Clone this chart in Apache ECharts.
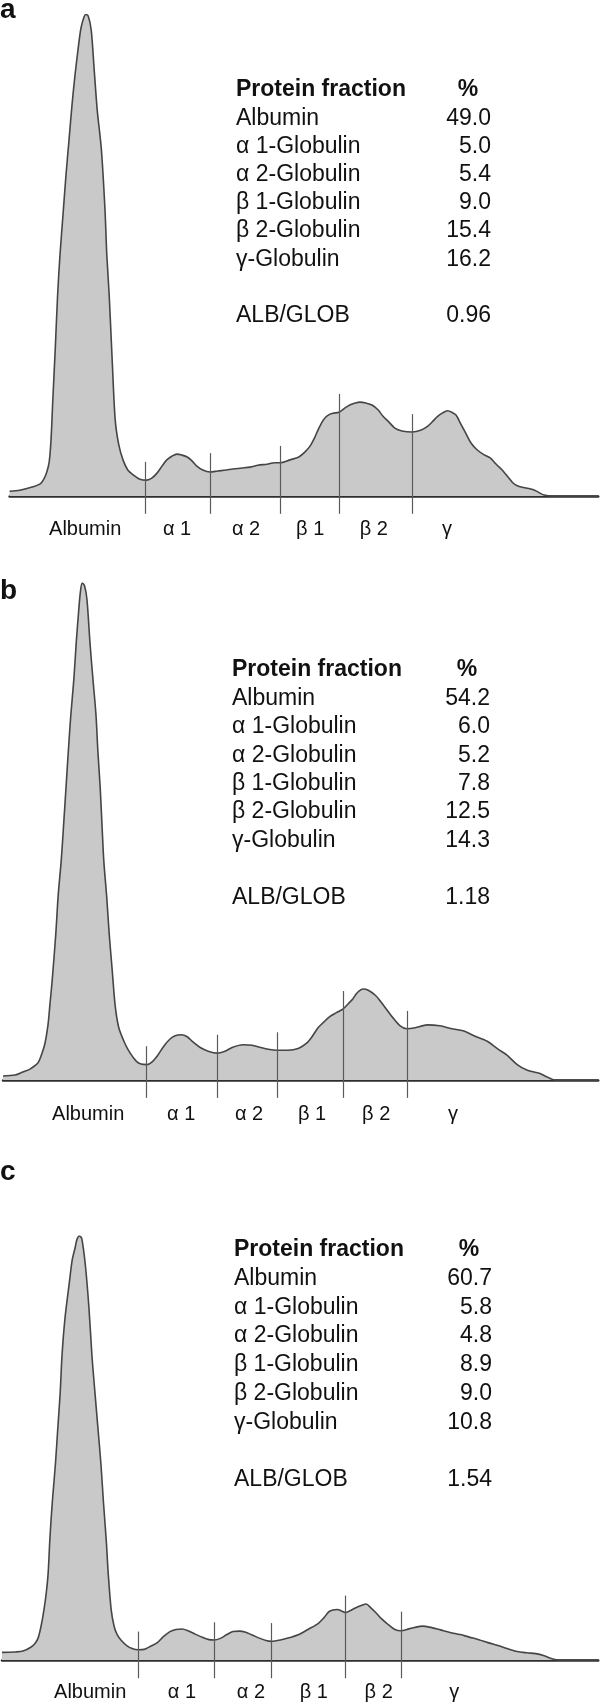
<!DOCTYPE html>
<html>
<head>
<meta charset="utf-8">
<script src="https://cdn.jsdelivr.net/npm/echarts@6/dist/echarts.min.js"></script>
<style>
html,body{margin:0;padding:0;background:#fff;}
#chart{width:600px;height:1707px;}
</style>
</head>
<body>
<div id="chart"></div>
<script>
// ---------------- DATA ----------------
const panelLetters = ['a', 'b', 'c'];
const fractionLabels = ['Albumin', 'α 1', 'α 2', 'β 1', 'β 2', 'γ'];
const tableNames = ['Albumin', 'α 1-Globulin', 'α 2-Globulin', 'β 1-Globulin', 'β 2-Globulin', 'γ-Globulin'];
const tableHeader = ['Protein fraction', '%'];
const ratioName = 'ALB/GLOB';

const percentA = [49.0, 5.0, 5.4, 9.0, 15.4, 16.2];
const percentB = [54.2, 6.0, 5.2, 7.8, 12.5, 14.3];
const percentC = [60.7, 5.8, 4.8, 8.9, 9.0, 10.8];
const ratioA = 0.96;
const ratioB = 1.18;
const ratioC = 1.54;

// densitometric traces: [migration position, relative absorbance (% of albumin peak)]
const curveA = [[1.6,1.0],[3.3,1.2],[5.5,1.9],[6.7,2.5],[7.3,3.5],[7.8,5.0],[8.2,7.1],[8.5,11.6],[8.8,19.9],[9.2,30.3],[9.6,41.7],[10.0,50.1],[10.5,58.4],[11.0,66.7],[11.5,73.9],[12.0,81.2],[12.5,87.4],[13.1,93.7],[13.5,97.2],[14.0,99.5],[14.3,100],[14.7,99.7],[15.2,96.8],[15.7,88.5],[16.2,80.2],[16.9,71.9],[17.5,59.4],[17.8,50.1],[18.2,41.7],[18.7,28.2],[19.2,15.8],[19.8,10.6],[20.5,7.5],[21.3,5.4],[22.2,4.4],[23.3,3.5],[24.5,3.3],[25.3,3.7],[26.2,4.8],[27.0,6.2],[27.8,7.5],[28.7,8.3],[29.5,8.7],[30.3,8.5],[31.2,8.1],[32.0,7.3],[32.8,6.2],[33.8,5.4],[35.0,5.0],[36.3,5.2],[37.7,5.4],[38.8,5.6],[40.3,5.8],[41.7,6.0],[43.0,6.4],[44.5,6.6],[45.8,6.9],[46.7,6.9],[48.3,7.5],[49.8,8.1],[50.8,9.1],[51.7,10.4],[52.5,12.3],[53.0,13.7],[53.7,15.4],[54.3,16.4],[55.0,17.0],[55.5,17.2],[56.5,17.4],[57.5,18.3],[58.3,18.9],[59.2,19.3],[60.0,19.5],[61.0,19.3],[62.0,18.9],[63.0,17.9],[63.8,16.6],[64.8,15.4],[65.8,14.1],[67.0,13.5],[68.7,13.3],[70.2,13.7],[71.3,14.5],[72.2,15.6],[72.8,16.4],[73.7,17.2],[74.6,17.7],[75.3,17.4],[76.0,16.8],[76.7,15.2],[77.6,13.1],[78.5,11.0],[79.5,9.6],[80.5,8.7],[81.7,7.9],[82.7,6.6],[83.7,5.4],[84.7,3.9],[85.5,2.7],[86.3,2.1],[87.5,1.7],[88.3,1.5],[89.1,1.2],[90.0,0.6],[90.7,0.2],[92.0,0],[99.7,0]];
const curveB = [[0.5,0.8],[2.5,1.0],[3.8,1.6],[5.0,2.2],[6.3,3.4],[7.0,5.4],[7.5,7.4],[8.0,11.1],[8.3,14.9],[8.7,20.1],[9.3,29.4],[9.7,37.2],[10.2,44.1],[10.6,51.3],[11.0,58.8],[11.4,66.4],[11.8,73.4],[12.3,80.5],[12.7,87.9],[13.1,94.2],[13.4,98.2],[13.7,100],[14.1,99.4],[14.5,96.6],[15.0,87.9],[15.5,80.5],[16.0,73.4],[16.3,66.4],[16.7,58.8],[17.0,51.3],[17.3,44.1],[17.8,36.6],[18.2,29.4],[18.7,22.1],[19.2,14.9],[19.8,10.5],[20.8,7.4],[21.7,5.4],[22.7,3.8],[23.5,3.2],[24.5,3.1],[25.3,3.6],[26.3,5.0],[27.3,6.8],[28.3,8.2],[29.2,8.9],[30.2,9.1],[31.2,8.7],[32.2,7.6],[33.3,6.6],[34.7,5.8],[36.2,5.4],[37.5,5.8],[38.8,6.6],[40.5,7.1],[42.0,7.0],[43.3,6.6],[44.7,6.2],[46.2,6.0],[48.0,6.0],[49.8,6.4],[51.1,7.4],[52.0,8.7],[53.0,10.5],[54.0,11.7],[54.9,12.7],[56.0,13.5],[57.2,14.3],[58.0,15.3],[58.8,16.3],[59.5,17.5],[60.5,18.3],[61.3,18.1],[62.6,17.0],[63.5,15.7],[64.5,14.1],[65.5,12.5],[66.7,10.9],[67.8,10.3],[69.2,10.5],[71.2,11.1],[73.3,10.9],[75.3,10.3],[77.2,9.9],[79.2,8.8],[81.2,7.8],[83.0,6.2],[84.5,5.0],[86.2,3.1],[87.8,2.0],[89.0,1.6],[90.0,1.3],[91.2,0.6],[92.5,0],[99.7,0]];
const curveC = [[0.3,1.8],[2.5,1.9],[3.8,2.1],[5.1,3.0],[5.8,3.9],[6.3,5.1],[6.8,7.9],[7.3,11.9],[7.7,16.1],[8.0,20.6],[8.3,29.0],[8.7,37.5],[9.2,46.1],[9.6,54.6],[10.0,63.0],[10.3,71.7],[10.8,80.6],[11.5,88.7],[12.0,94.3],[12.5,97.3],[12.8,99.2],[13.2,100],[13.6,99.4],[14.2,93.1],[14.8,83.0],[15.3,71.7],[15.8,63.0],[16.3,54.6],[16.8,46.1],[17.2,37.5],[17.7,27.8],[18.0,20.6],[18.5,11.9],[19.0,7.9],[19.5,6.0],[20.2,4.6],[21.1,3.4],[22.0,2.7],[23.0,2.4],[24.0,2.5],[25.0,3.2],[26.2,4.1],[27.2,5.5],[28.3,6.7],[29.3,7.2],[30.3,7.3],[31.3,6.9],[32.5,6.1],[33.8,5.3],[34.8,4.8],[35.7,4.7],[36.7,5.1],[37.8,6.0],[38.8,6.7],[39.9,6.8],[40.8,6.6],[42.0,5.9],[43.3,5.1],[44.3,4.6],[45.2,4.4],[46.7,4.7],[48.3,5.3],[49.8,6.0],[51.3,7.2],[53.0,8.6],[54.0,10.0],[54.9,11.5],[56.2,11.9],[57.0,11.5],[57.6,11.2],[58.3,11.6],[59.3,12.3],[60.3,12.9],[61.0,13.2],[61.8,12.3],[62.6,11.2],[63.5,9.8],[64.5,8.6],[65.8,7.2],[66.8,6.9],[68.3,7.4],[70.3,8.0],[71.8,7.7],[73.4,7.1],[75.0,6.5],[76.7,6.0],[78.2,5.4],[79.8,4.8],[81.3,4.1],[83.0,3.4],[84.5,2.7],[86.2,2.0],[87.8,1.7],[89.3,1.5],[90.7,1.0],[92.0,0.3],[93.2,0],[99.7,0]];

// fraction boundaries: [position, top of the marker]
const dividersA = [[24.2,7.1],[35.0,8.9],[46.7,10.4],[56.5,21.2],[68.7,17.0]];
const dividersB = [[24.3,6.8],[36.2,9.1],[46.2,9.6],[57.2,17.9],[67.8,13.9]];
const dividersC = [[23.0,6.7],[35.7,8.9],[45.2,8.7],[57.6,15.2],[66.8,11.4]];
const dividerBottom = [-3.7, -3.6, -4.3];

// fraction label positions along the migration axis
const labelPosA = [14.2, 29.5, 41.0, 51.7, 62.3, 74.5];
const labelPosB = [14.7, 30.2, 41.5, 52.0, 62.7, 75.5];
const labelPosC = [15.0, 30.3, 41.8, 52.3, 63.1, 75.7];

// ---------------- LAYOUT ----------------
const CH = 1707;
const layout = [
  {letterY: 10, peak: 14.5, base: 496, left: 9.6, right: 1.8, margin: 2.3,
   tx: 236, ty: 90, step: 28.2, vx: 491, px: 468},
  {letterY: 591, peak: 583, base: 1080, left: 3, right: 1.8, margin: 2.6,
   tx: 232, ty: 670, step: 28.4, vx: 490, px: 467},
  {letterY: 1172, peak: 1236, base: 1660, left: 2, right: 1.8, margin: 3.9,
   tx: 234, ty: 1250, step: 28.7, vx: 492, px: 469}
];
const Y_MIN = -4.5, Y_MAX = 100;

const curves = [curveA, curveB, curveC];
const dividers = [dividersA, dividersB, dividersC];
const labelPos = [labelPosA, labelPosB, labelPosC];
const percents = [percentA, percentB, percentC];
const ratios = [ratioA, ratioB, ratioC];

const FONT = '"Liberation Sans", Arial, Helvetica, sans-serif';

const grids = [], xAxes = [], yAxes = [], series = [], graphics = [];

function txt(x, y, text, font, align) {
  return {type: 'text', x: x, y: y, z: 10,
    style: {text: text, font: font, fill: '#111',
            align: align, verticalAlign: 'middle', textAlign: align, textVerticalAlign: 'middle'}};
}

layout.forEach((L, i) => {
  const unit = (L.base - L.peak) / Y_MAX;
  const bottomPx = L.base + (-Y_MIN) * unit;
  grids.push({left: L.left, right: L.right, top: L.peak, bottom: CH - bottomPx,
              containLabel: false, outerBoundsMode: 'none'});
  const c = curves[i];
  const lp = labelPos[i];
  xAxes.push({
    type: 'value', gridIndex: i, min: c[0][0], max: c[c.length - 1][0],
    splitLine: {show: false}, axisTick: {show: false},
    axisLine: {show: true, onZero: true, lineStyle: {color: '#2e2e2e', width: 2.5}},
    axisLabel: {
      show: true, customValues: lp, margin: L.margin,
      fontSize: 20, color: '#111', fontFamily: FONT,
      formatter: function (v) {
        const k = lp.indexOf(v);
        return k >= 0 ? fractionLabels[k] : '';
      }
    }
  });
  yAxes.push({type: 'value', gridIndex: i, min: Y_MIN, max: Y_MAX, show: false});
  series.push({
    type: 'line', xAxisIndex: i, yAxisIndex: i, data: c,
    smooth: 0.3, symbol: 'none', silent: true,
    lineStyle: {color: '#454545', width: 1.6},
    areaStyle: {color: '#c9c9c9', opacity: 1},
    markLine: {
      silent: true, symbol: 'none', animation: false,
      label: {show: false},
      lineStyle: {color: '#5a5a5a', width: 1.2, type: 'solid'},
      emphasis: {disabled: true},
      data: dividers[i].map(d => [{coord: [d[0], d[1]]}, {coord: [d[0], dividerBottom[i]]}])
    },
    z: 2
  });

  graphics.push(txt(0, L.letterY, panelLetters[i], 'bold 28px ' + FONT, 'left'));
  graphics.push(txt(L.tx, L.ty, tableHeader[0], 'bold 23px ' + FONT, 'left'));
  graphics.push(txt(L.px, L.ty, tableHeader[1], 'bold 23px ' + FONT, 'center'));
  tableNames.forEach((nm, r) => {
    const y = L.ty + (r + 1) * L.step;
    graphics.push(txt(L.tx, y, nm, '23px ' + FONT, 'left'));
    graphics.push(txt(L.vx, y, percents[i][r].toFixed(1), '23px ' + FONT, 'right'));
  });
  const yr = L.ty + 8 * L.step;
  graphics.push(txt(L.tx, yr, ratioName, '23px ' + FONT, 'left'));
  graphics.push(txt(L.vx, yr, ratios[i].toFixed(2), '23px ' + FONT, 'right'));
});

const chart = echarts.init(document.getElementById('chart'), null, {renderer: 'canvas'});
chart.setOption({
  animation: false,
  backgroundColor: '#ffffff',
  grid: grids,
  xAxis: xAxes,
  yAxis: yAxes,
  series: series,
  graphic: {elements: graphics}
});
</script>
</body>
</html>
